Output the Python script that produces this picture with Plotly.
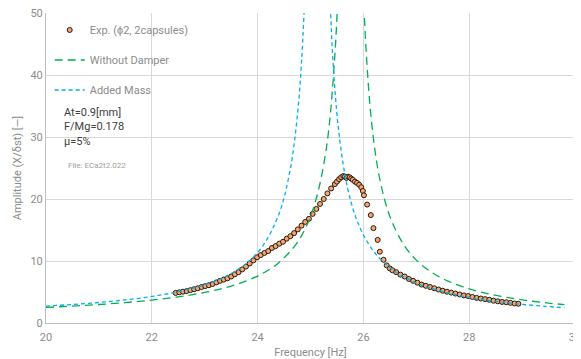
import plotly.graph_objects as go

exp_freq = [22.45, 22.52, 22.59, 22.66, 22.73, 22.80, 22.87, 22.94, 23.01, 23.08,
            23.15, 23.22, 23.29, 23.36, 23.43, 23.50, 23.57, 23.64, 23.71, 23.78,
            23.85, 23.92, 23.99, 24.06, 24.13, 24.20, 24.27, 24.34, 24.41, 24.48,
            24.55, 24.62, 24.69, 24.76, 24.83, 24.90, 24.97, 25.04, 25.11, 25.18,
            25.25, 25.32, 25.39, 25.46, 25.50, 25.54, 25.58, 25.62, 25.65, 25.68,
            25.71, 25.74, 25.77, 25.80, 25.84, 25.88, 25.92, 25.96, 25.99, 26.01,
            26.07, 26.14, 26.19, 26.27, 26.31, 26.38, 26.44, 26.50, 26.55, 26.62,
            26.70, 26.78, 26.86, 26.94, 27.02, 27.10, 27.18, 27.26, 27.34, 27.42,
            27.50, 27.58, 27.66, 27.74, 27.82, 27.90, 27.98, 28.06, 28.14, 28.22,
            28.30, 28.38, 28.46, 28.54, 28.62, 28.70, 28.78, 28.86, 28.93]
exp_amp = [4.85, 4.95, 5.05, 5.15, 5.3, 5.45, 5.6, 5.8, 5.95, 6.1,
           6.3, 6.55, 6.8, 7.0, 7.2, 7.5, 7.85, 8.2, 8.65, 9.1,
           9.6, 10.1, 10.6, 10.95, 11.3, 11.6, 12.1, 12.4, 12.8, 13.1,
           13.6, 14.0, 14.5, 15.1, 15.7, 16.3, 16.8, 17.6, 18.4, 19.2,
           20.0, 20.9, 21.7, 22.4, 22.8, 23.2, 23.5, 23.7, 23.6, 23.4,
           23.6, 23.5, 23.3, 23.1, 22.8, 22.6, 22.3, 21.9, 21.3, 20.6,
           19.1, 17.4, 15.3, 13.4, 11.5, 10.2, 9.3, 8.8, 8.5, 8.2,
           7.8, 7.5, 7.1, 6.8, 6.5, 6.2, 6.0, 5.8, 5.6, 5.4,
           5.2, 5.05, 4.9, 4.75, 4.6, 4.45, 4.35, 4.2, 4.05, 3.95,
           3.85, 3.75, 3.6, 3.5, 3.4, 3.35, 3.25, 3.15, 3.1]

# ---- Without Damper curve ----
nd_freq = [20.0, 20.5, 21.0, 21.5, 22.0, 22.5, 23.0, 23.4, 23.8, 24.1,
           24.4, 24.7, 24.9, 25.1, 25.3, 25.45, 25.55, 25.65, 25.72,
           25.80, 25.88, 25.95, 26.0, 26.05, 26.15, 26.3, 26.5, 26.75, 27.0,
           27.3, 27.6, 28.0, 28.4, 28.8, 29.2, 29.5, 29.8]
nd_amp = [2.52, 2.73, 2.98, 3.30, 3.70, 4.22, 4.93, 5.72, 6.83, 8.02,
          9.73, 12.4, 15.2, 19.8, 28.2, 41.8, 61.6, 117, 322,
          322, 107, 67.6, 53.5, 44.2, 32.8, 23.6, 17.2, 12.8, 10.14,
          8.12, 6.76, 5.51, 4.64, 4.00, 3.51, 3.21, 2.96]

# ---- Added Mass curve ----
am_freq = [20.0, 20.5, 21.0, 21.5, 22.0, 22.5, 23.0, 23.4, 23.8, 24.1,
           24.4, 24.6, 24.75, 24.85, 24.95, 25.05, 25.1,
           25.16, 25.22, 25.3, 25.38, 25.45, 25.55, 25.7, 25.85, 26.0,
           26.2, 26.4, 26.7, 27.0, 27.4, 27.8, 28.2, 28.6, 29.0, 29.4, 29.8]
am_amp = [2.73, 2.99, 3.31, 3.73, 4.28, 5.04, 6.16, 7.52, 9.70, 12.45,
          17.5, 24.0, 33.3, 45.1, 70.0, 157, 418,
          418, 139, 73.7, 50.0, 39.0, 29.7, 21.8, 17.2, 14.2,
          11.5, 9.65, 7.76, 6.48, 5.30, 4.47, 3.85, 3.39, 3.01, 2.71, 2.46]

x_ticks = [20, 22, 24, 26, 28, 30]
y_ticks = [0, 10, 20, 30, 40, 50]

FONT = "Liberation Sans Narrow, Roboto, Liberation Sans, sans-serif"
GRAY = "#8C8C8C"

fig = go.Figure()
fig.add_trace(go.Scatter(
    x=exp_freq, y=exp_amp, mode="markers", name="Exp. (ϕ2, 2capsules)",
    legendgroup="a",
    marker=dict(size=5, color="#F4A672", line=dict(color="#2B1A0E", width=1)),
))
fig.add_trace(go.Scatter(
    x=nd_freq, y=nd_amp, mode="lines", name="Without Damper", line_shape="spline",
    legendgroup="b",
    line=dict(color="#00B050", width=1.3, dash="8px,5px"),
))
fig.add_trace(go.Scatter(
    x=am_freq, y=am_amp, mode="lines", name="Added Mass", line_shape="spline",
    legendgroup="c",
    line=dict(color="#00B0F0", width=1.3, dash="4px,3px"),
))

# The page body has an 8px margin, so the figure is sized/margined to compensate.
fig.update_layout(
    width=573, height=351,
    margin=dict(l=38, r=6, t=5, b=36, autoexpand=False),
    paper_bgcolor="white", plot_bgcolor="white",
    font=dict(family=FONT, size=11, color=GRAY),
    showlegend=True,
    legend=dict(x=0.007, y=0.992, xanchor="left", yanchor="top",
                bgcolor="rgba(0,0,0,0)", font=dict(size=11, color=GRAY),
                tracegroupgap=11, itemwidth=30, traceorder="grouped"),
    xaxis=dict(range=[20, 30], tickvals=x_ticks, ticktext=[str(v) for v in x_ticks],
               showgrid=True, gridcolor="#D9D9D9", gridwidth=1,
               showline=True, linecolor="#BFBFBF", linewidth=1, mirror=False,
               zeroline=False, ticks="", tickfont=dict(size=11, color=GRAY),
               ticklabeloverflow="allow", ticklabelstandoff=4, automargin=False,
               title=dict(text="Frequency [Hz]", font=dict(size=11, color=GRAY), standoff=5)),
    yaxis=dict(range=[0, 50], tickvals=y_ticks, ticktext=[str(v) for v in y_ticks],
               showgrid=True, gridcolor="#D9D9D9", gridwidth=1,
               showline=True, linecolor="#BFBFBF", linewidth=1,
               zeroline=False, ticks="", tickfont=dict(size=11, color=GRAY),
               ticklabeloverflow="allow", automargin=False,
               title=dict(text="Amplitude (X/δst) [—]", font=dict(size=11, color=GRAY), standoff=6)),
)

fig.add_annotation(xref="paper", yref="paper", x=0.031, y=0.705, xanchor="left", yanchor="top",
                   text="At=0.9[mm]<br>F/Mg=0.178<br>μ=5%", showarrow=False, align="left",
                   font=dict(size=11, color="#404040", family=FONT))
fig.add_annotation(xref="paper", yref="paper", x=0.037, y=0.507, xanchor="left", yanchor="middle",
                   text="File: ECa2t2.022", showarrow=False, align="left",
                   font=dict(size=8, color="#A0A0A0", family=FONT))

fig.write_html("out.html")
